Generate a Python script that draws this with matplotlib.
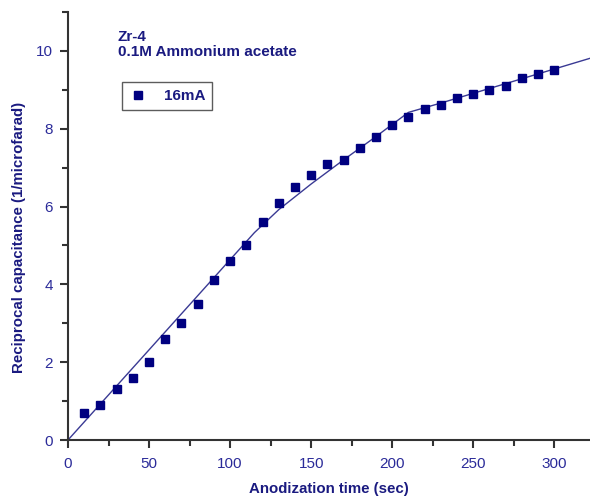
import matplotlib
matplotlib.use("Agg")
import matplotlib.pyplot as plt
from matplotlib.ticker import MultipleLocator

plt.rcParams['font.family'] = ['Liberation Sans', 'DejaVu Sans']

# Data
time_sec = [10, 20, 30, 40, 50, 60, 70, 80, 90, 100, 110, 120, 130, 140, 150,
            160, 170, 180, 190, 200, 210, 220, 230, 240, 250, 260, 270, 280, 290, 300]
recip_cap = [0.7, 0.9, 1.3, 1.6, 2.0, 2.6, 3.0, 3.5, 4.1, 4.6, 5.0, 5.6, 6.1, 6.5, 6.8,
             7.1, 7.2, 7.5, 7.8, 8.1, 8.3, 8.5, 8.6, 8.8, 8.9, 9.0, 9.1, 9.3, 9.4, 9.5]
fit_x = [0, 115, 130, 150, 170, 190, 210, 230, 322]
fit_y = [0, 5.33, 5.92, 6.58, 7.2, 7.8, 8.42, 8.66, 9.81]

navy = '#000080'
tick_col = '#2b2b99'
label_col = '#1a1a80'

W, H = 590, 497
fig = plt.figure(figsize=(W/100, H/100), dpi=100)
ax = fig.add_axes([68/W, 1-440/H, 1-68/W, (440-12)/H])

ax.plot(fit_x, fit_y, color='#3a3a94', lw=1.0, zorder=2)
ax.plot(time_sec, recip_cap, 's', color=navy, markersize=6, zorder=3, label='16mA')

ax.set_xlim(0, 322)
ax.set_ylim(0, 11)
ax.xaxis.set_major_locator(MultipleLocator(50))
ax.xaxis.set_minor_locator(MultipleLocator(25))
ax.yaxis.set_major_locator(MultipleLocator(2))
ax.yaxis.set_minor_locator(MultipleLocator(1))

for s in ['top', 'right']:
    ax.spines[s].set_visible(False)
for s in ['left', 'bottom']:
    ax.spines[s].set_linewidth(1.5)
    ax.spines[s].set_color('#333333')

ax.tick_params(which='major', direction='out', length=6, width=1.5, color='#333333',
               labelsize=11, labelcolor=tick_col)
ax.tick_params(axis='x', which='major', pad=6)
ax.tick_params(axis='y', which='major', pad=5)
ax.tick_params(which='minor', direction='out', length=4, width=1.5, color='#333333')

ax.set_xlabel('Anodization time (sec)', fontsize=10.8, fontweight='bold', color=label_col)
ax.xaxis.set_label_coords(0.5, -(489-440)/428, transform=ax.transAxes)
ax.xaxis.label.set_va('center')
ax.set_ylabel('Reciprocal capacitance (1/microfarad)', fontsize=10.8, fontweight='bold', color=label_col)
ax.yaxis.set_label_coords(-(68-19)/(W-68), (440-237)/428, transform=ax.transAxes)
ax.yaxis.label.set_va('center')

fig.text(118/W, 1-37/H, 'Zr-4', fontsize=11, fontweight='bold',
         color=label_col, va='center', ha='left')
fig.text(118/W, 1-52/H, '0.1M Ammonium acetate', fontsize=11, fontweight='bold',
         color=label_col, va='center', ha='left')

leg = ax.legend(loc='upper left', bbox_to_anchor=((122-68)/(W-68), (440-82)/428),
                frameon=True, fancybox=False, edgecolor='#333333', fontsize=11,
                handlelength=1.2, handletextpad=1.1, borderpad=0.45, borderaxespad=0)
leg.get_frame().set_linewidth(1.0)
for t in leg.get_texts():
    t.set_color(label_col)
    t.set_fontweight('bold')

fig.savefig('out.png', dpi=100)
